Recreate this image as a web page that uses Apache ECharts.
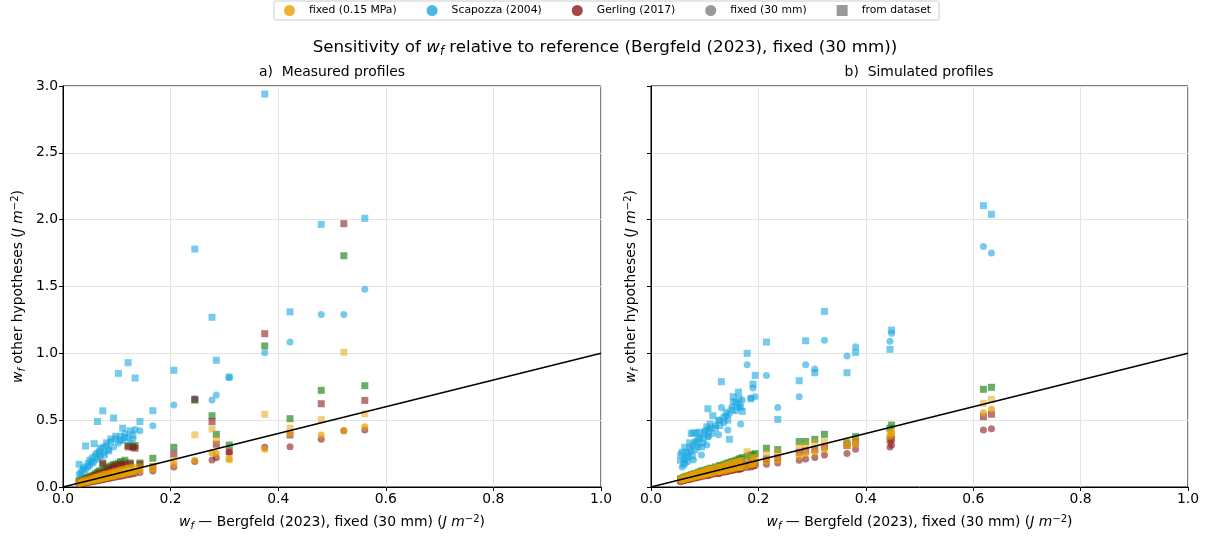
<!DOCTYPE html>
<html>
<head>
<meta charset="utf-8">
<title>Sensitivity of wf</title>
<script src="https://cdn.jsdelivr.net/npm/echarts@6/dist/echarts.min.js"></script>
<style>
  html, body { margin: 0; padding: 0; background: #fff; }
  #chart { width: 1215px; height: 536px; }
</style>
</head>
<body>
<div id="chart"></div>
<script>
// ---- Axis ticks ----
const xTicks = [0, 0.2, 0.4, 0.6, 0.8, 1.0];
const yTicks = [0, 0.5, 1.0, 1.5, 2.0, 2.5, 3.0];

// ---- Legend entries ----
const legendNames = ['fixed (0.15 MPa)', 'Scapozza (2004)', 'Gerling (2017)', 'fixed (30 mm)', 'from dataset'];

// ---- a) Measured profiles: reference wf (Bergfeld 2023, fixed 30 mm) ----
const measuredRef = [0.030, 0.034, 0.038, 0.042, 0.046, 0.050, 0.054, 0.058, 0.061, 0.064,
  0.067, 0.070, 0.074, 0.077, 0.081, 0.085, 0.089, 0.094, 0.098, 0.103,
  0.107, 0.111, 0.115, 0.121, 0.125, 0.130, 0.134, 0.143, 0.167,
  0.206, 0.245, 0.277, 0.285, 0.309, 0.375, 0.422, 0.480, 0.522, 0.561];
// fixed (0.15 MPa) density, fixed 30 mm thickness
const measuredPressCircle = [0.026, 0.029, 0.033, 0.036, 0.039, 0.043, 0.046, 0.049, 0.052, 0.055,
  0.058, 0.060, 0.064, 0.066, 0.070, 0.073, 0.077, 0.081, 0.084, 0.089,
  0.092, 0.096, 0.099, 0.104, 0.108, 0.112, 0.116, 0.124, 0.135,
  0.170, 0.200, 0.257, 0.252, 0.210, 0.283, 0.400, 0.389, 0.421, 0.451];
// fixed (0.15 MPa) density, thickness from dataset
const measuredPressSquare = [0.035, 0.040, 0.045, 0.050, 0.052, 0.060, 0.060, 0.068, 0.072, 0.075,
  0.080, 0.082, 0.090, 0.090, 0.098, 0.095, 0.108, 0.110, 0.118, 0.120,
  0.128, 0.126, 0.136, 0.140, 0.142, 0.146, 0.140, 0.150, 0.150,
  0.200, 0.390, 0.434, 0.350, 0.207, 0.544, 0.440, 0.504, 1.008, 0.548];
// Scapozza (2004) density, fixed 30 mm thickness
const measuredScapCircle = [0.100, 0.120, 0.150, 0.130, 0.180, 0.160, 0.220, 0.190, 0.250, 0.210,
  0.270, 0.230, 0.300, 0.260, 0.310, 0.280, 0.340, 0.300, 0.360, 0.330,
  0.380, 0.350, 0.400, 0.370, 0.330, 0.360, 0.430, 0.420, 0.459,
  0.613, 0.660, 0.651, 0.688, 0.820, 1.005, 1.085, 1.290, 1.290, 1.480];
// Scapozza (2004) density, thickness from dataset
const measuredScapSquare = [0.170, 0.090, 0.130, 0.307, 0.150, 0.200, 0.180, 0.324, 0.230, 0.490,
  0.250, 0.290, 0.570, 0.240, 0.330, 0.270, 0.360, 0.516, 0.380, 0.850,
  0.350, 0.440, 0.370, 0.930, 0.420, 0.390, 0.815, 0.490, 0.571,
  0.873, 1.780, 1.270, 0.948, 0.823, 2.940, 1.310, 1.965, null, 2.010];
// Gerling (2017) density, fixed 30 mm thickness
const measuredGerlCircle = [0.020, 0.024, 0.027, 0.030, 0.033, 0.036, 0.039, 0.042, 0.045, 0.047,
  0.050, 0.052, 0.055, 0.058, 0.061, 0.064, 0.067, 0.071, 0.074, 0.078,
  0.081, 0.084, 0.087, 0.092, 0.095, 0.099, 0.102, 0.108, 0.120,
  0.150, 0.190, 0.202, 0.219, 0.260, 0.297, 0.302, 0.357, 0.420, 0.426];
// Gerling (2017) density, thickness from dataset
const measuredGerlSquare = [0.036, 0.040, 0.046, 0.058, 0.050, 0.066, 0.060, 0.080, 0.088, 0.080,
  0.098, 0.100, 0.180, 0.108, 0.128, 0.120, 0.140, 0.150, 0.158, 0.127,
  0.168, 0.160, 0.170, 0.300, 0.180, 0.300, 0.290, 0.170, 0.152,
  0.247, 0.656, 0.489, 0.320, 0.264, 1.147, 0.389, 0.623, 1.970, 0.648];
// Bergfeld (2023) density, thickness from dataset
const measuredBergSquare = [0.048, 0.058, 0.060, 0.070, 0.072, 0.080, 0.082, 0.090, 0.100, 0.108,
  0.118, 0.120, 0.170, 0.128, 0.140, 0.148, 0.158, 0.168, 0.170, 0.178,
  0.190, 0.182, 0.200, 0.310, 0.172, 0.300, 0.310, 0.180, 0.215,
  0.297, 0.650, 0.533, 0.394, 0.314, 1.055, 0.511, 0.723, 1.730, 0.758];

// ---- b) Simulated profiles ----
const simulatedRef = [0.055, 0.058, 0.061, 0.063, 0.066, 0.069, 0.072, 0.075, 0.077, 0.079,
  0.082, 0.085, 0.088, 0.091, 0.094, 0.097, 0.100, 0.104, 0.106, 0.107,
  0.110, 0.115, 0.120, 0.126, 0.128, 0.131, 0.136, 0.140, 0.143, 0.146,
  0.151, 0.153, 0.158, 0.163, 0.164, 0.167, 0.170, 0.179, 0.186, 0.190,
  0.194, 0.215, 0.236, 0.276, 0.288, 0.305, 0.323, 0.365, 0.381, 0.445,
  0.448, 0.619, 0.634];
const simulatedPressCircle = [0.050, 0.050, 0.055, 0.060, 0.060, 0.065, 0.065, 0.070, 0.070, 0.075,
  0.075, 0.080, 0.080, 0.085, 0.085, 0.090, 0.090, 0.095, 0.100, 0.100,
  0.100, 0.105, 0.110, 0.115, 0.115, 0.120, 0.120, 0.125, 0.130, 0.130,
  0.135, 0.140, 0.140, 0.145, 0.145, 0.150, 0.150, 0.160, 0.165, 0.170,
  0.175, 0.190, 0.200, 0.230, 0.250, 0.260, 0.280, 0.310, 0.320, 0.380,
  0.400, 0.556, 0.581];
const simulatedPressSquare = [0.060, 0.060, 0.065, 0.070, 0.075, 0.080, 0.080, 0.085, 0.090, 0.090,
  0.100, 0.100, 0.100, 0.110, 0.110, 0.115, 0.120, 0.120, 0.125, 0.130,
  0.130, 0.135, 0.140, 0.145, 0.150, 0.150, 0.160, 0.160, 0.170, 0.170,
  0.180, 0.180, 0.185, 0.190, 0.190, 0.195, 0.200, 0.264, 0.210, 0.220,
  0.220, 0.250, 0.260, 0.300, 0.310, 0.330, 0.339, 0.334, 0.360, 0.400,
  0.420, 0.626, 0.656];
const simulatedScapCircle = [0.245, 0.150, 0.210, 0.177, 0.260, 0.190, 0.290, 0.270, 0.310, 0.202,
  0.340, 0.406, 0.300, 0.370, 0.239, 0.330, 0.420, 0.314, 0.380, 0.376,
  0.439, 0.400, 0.460, 0.390, 0.500, 0.594, 0.480, 0.531, 0.426, 0.550,
  0.600, 0.640, 0.570, 0.620, 0.594, 0.471, 0.650, 0.915, 0.665, 0.740,
  0.676, 0.835, 0.594, 0.676, 0.915, 0.883, 1.097, 0.980, 1.050, 1.090,
  1.150, 1.800, 1.750];
const simulatedScapSquare = [0.200, 0.260, 0.170, 0.297, 0.220, 0.240, 0.330, 0.400, 0.232, 0.406,
  0.280, 0.330, 0.360, 0.410, 0.300, 0.364, 0.400, 0.450, 0.586, 0.420,
  0.470, 0.533, 0.440, 0.500, 0.460, 0.788, 0.520, 0.560, 0.500, 0.357,
  0.576, 0.676, 0.630, 0.710, 0.660, 0.600, 0.566, 1.000, 0.660, 0.770,
  0.835, 1.085, 0.506, 0.795, 1.094, 0.855, 1.314, 0.855, 1.007, 1.030,
  1.174, 2.105, 2.040];
const simulatedGerlCircle = [0.040, 0.045, 0.050, 0.050, 0.055, 0.055, 0.060, 0.060, 0.065, 0.065,
  0.070, 0.070, 0.075, 0.075, 0.080, 0.080, 0.085, 0.085, 0.090, 0.090,
  0.090, 0.095, 0.100, 0.100, 0.105, 0.110, 0.110, 0.115, 0.120, 0.120,
  0.125, 0.125, 0.130, 0.130, 0.135, 0.135, 0.140, 0.145, 0.150, 0.155,
  0.160, 0.170, 0.180, 0.200, 0.210, 0.220, 0.240, 0.250, 0.282, 0.300,
  0.314, 0.426, 0.436];
const simulatedGerlSquare = [0.050, 0.050, 0.055, 0.060, 0.060, 0.065, 0.070, 0.070, 0.075, 0.075,
  0.080, 0.080, 0.085, 0.090, 0.090, 0.095, 0.100, 0.100, 0.100, 0.105,
  0.110, 0.110, 0.115, 0.120, 0.120, 0.125, 0.130, 0.130, 0.135, 0.140,
  0.140, 0.145, 0.150, 0.150, 0.155, 0.160, 0.160, 0.170, 0.180, 0.180,
  0.185, 0.210, 0.220, 0.260, 0.270, 0.280, 0.300, 0.310, 0.330, 0.350,
  0.360, 0.526, 0.544];
const simulatedBergSquare = [0.060, 0.065, 0.070, 0.075, 0.080, 0.080, 0.085, 0.090, 0.090, 0.095,
  0.100, 0.100, 0.110, 0.110, 0.120, 0.120, 0.120, 0.130, 0.130, 0.130,
  0.140, 0.140, 0.150, 0.150, 0.160, 0.160, 0.170, 0.170, 0.180, 0.180,
  0.190, 0.190, 0.200, 0.200, 0.210, 0.210, 0.220, 0.230, 0.240, 0.240,
  0.250, 0.290, 0.280, 0.340, 0.340, 0.357, 0.394, 0.330, 0.377, 0.440,
  0.464, 0.731, 0.746];

// ---- Styling ----
const COLORS = {
  press: '#E69F00',
  scap: '#1AA7E0',
  gerl: '#8B1A1A',
  berg: '#2A8A2A',
  gray: '#808080'
};
const FONT = 'DejaVu Sans';
const FS = 13.9;

function pairs(xs, ys) {
  const out = [];
  for (let i = 0; i < xs.length; i++) {
    if (ys[i] !== null && ys[i] !== undefined) out.push([xs[i], ys[i]]);
  }
  return out;
}

function scatter(panel, xs, ys, color, shape, opacity, z) {
  return {
    type: 'scatter',
    xAxisIndex: panel,
    yAxisIndex: panel,
    data: pairs(xs, ys),
    symbol: shape,
    symbolSize: 7,
    itemStyle: { color: color, opacity: opacity },
    emphasis: { disabled: true },
    silent: true,
    z: z
  };
}

function panelSeries(panel, ref, pc, ps, sc, ss, gc, gs, bs) {
  return [
    scatter(panel, ref, bs, COLORS.berg, 'rect', 0.7, 2),
    scatter(panel, ref, sc, COLORS.scap, 'circle', 0.6, 2),
    scatter(panel, ref, ss, COLORS.scap, 'rect', 0.6, 2),
    scatter(panel, ref, gc, COLORS.gerl, 'circle', 0.6, 3),
    scatter(panel, ref, gs, COLORS.gerl, 'rect', 0.6, 3),
    scatter(panel, ref, pc, COLORS.press, 'circle', 0.7, 3),
    scatter(panel, ref, ps, COLORS.press, 'rect', 0.5, 3),
    {
      // 1:1 reference line
      type: 'line',
      xAxisIndex: panel,
      yAxisIndex: panel,
      data: [[0, 0], [1, 1]],
      showSymbol: false,
      symbol: 'none',
      lineStyle: { color: '#000', width: 1.5 },
      silent: true,
      z: 5
    }
  ];
}

const richMath = {
  i: { fontFamily: FONT, fontStyle: 'italic', fontSize: FS, lineHeight: 17, color: '#000' },
  sub: { fontFamily: FONT, fontStyle: 'italic', fontSize: 10, lineHeight: 10, verticalAlign: 'bottom', color: '#000' },
  sup: { fontFamily: FONT, fontSize: 10, lineHeight: 10, verticalAlign: 'top', color: '#000' }
};

function axisNameStyle() {
  return { fontFamily: FONT, fontSize: FS, lineHeight: 17, color: '#000', rich: richMath };
}

const xName = '{i|w}{sub|f} — Bergfeld (2023), fixed (30 mm) ({i|J m}{sup|−2})';
const yName = '{i|w}{sub|f} other hypotheses ({i|J m}{sup|−2})';

function xAxis(panel) {
  return {
    type: 'value', gridIndex: panel, min: xTicks[0], max: xTicks[xTicks.length - 1], interval: 0.2,
    name: xName, nameLocation: 'middle', nameGap: 27,
    nameTextStyle: axisNameStyle(),
    axisLine: { show: true, lineStyle: { color: '#000', width: 1 } },
    axisTick: { show: true, length: 4, lineStyle: { color: '#000' } },
    axisLabel: { fontFamily: FONT, fontSize: FS, color: '#000', margin: 5,
      formatter: v => v.toFixed(1) },
    splitLine: { show: true, lineStyle: { color: '#e4e4e4', width: 1 } }
  };
}

function yAxis(panel, withLabels) {
  return {
    type: 'value', gridIndex: panel, min: yTicks[0], max: yTicks[yTicks.length - 1], interval: 0.5,
    name: yName, nameLocation: 'middle', nameGap: withLabels ? 36 : 11, nameRotate: 90,
    nameTextStyle: axisNameStyle(),
    axisLine: { show: true, lineStyle: { color: '#000', width: 1 } },
    axisTick: { show: true, length: 4, lineStyle: { color: '#000' } },
    axisLabel: { show: withLabels, fontFamily: FONT, fontSize: FS, color: '#000', margin: 5,
      formatter: v => v.toFixed(1) },
    splitLine: { show: true, lineStyle: { color: '#e4e4e4', width: 1 } }
  };
}

// Legend-only series (no data): colour = density hypothesis, marker = thickness hypothesis
const legendColors = [COLORS.press, COLORS.scap, COLORS.gerl, COLORS.gray, COLORS.gray];
const legendIcons = ['circle', 'circle', 'circle', 'circle', 'rect'];
const legendSeries = legendNames.map((n, i) => ({
  type: 'scatter', name: n, data: [], xAxisIndex: 0, yAxisIndex: 0,
  itemStyle: { color: legendColors[i] }
}));

const option = {
  animation: false,
  backgroundColor: '#fff',
  title: [
    {
      text: 'Sensitivity of {i|w}{sub|f} relative to reference (Bergfeld (2023), fixed (30 mm))',
      left: 605, top: 38, textAlign: 'center', padding: 0,
      textStyle: {
        fontFamily: FONT, fontSize: 16.7, fontWeight: 'normal', color: '#000', lineHeight: 20,
        rich: {
          i: { fontFamily: FONT, fontStyle: 'italic', fontSize: 16.7, lineHeight: 20, color: '#000' },
          sub: { fontFamily: FONT, fontStyle: 'italic', fontSize: 11.5, lineHeight: 11, verticalAlign: 'bottom', color: '#000' }
        }
      }
    },
    {
      text: 'a)  Measured profiles', left: 332, top: 64, textAlign: 'center', padding: 0,
      textStyle: { fontFamily: FONT, fontSize: FS, lineHeight: 16, fontWeight: 'normal', color: '#000' }
    },
    {
      text: 'b)  Simulated profiles', left: 919, top: 64, textAlign: 'center', padding: 0,
      textStyle: { fontFamily: FONT, fontSize: FS, lineHeight: 16, fontWeight: 'normal', color: '#000' }
    }
  ],
  legend: {
    data: legendNames.map((n, i) => ({ name: n, icon: legendIcons[i] })),
    left: 'center', top: 1,
    itemWidth: 11, itemHeight: 11, itemGap: 30,
    padding: [4, 8, 4, 10],
    borderColor: '#cccccc', borderWidth: 1, borderRadius: 2,
    textStyle: { fontFamily: FONT, fontSize: 10.8, color: '#000', padding: [0, 0, 0, 9] },
    selectedMode: false
  },
  grid: [
    { left: 63, right: 614, top: 86, bottom: 49, show: true, borderColor: '#000', borderWidth: 1, backgroundColor: 'transparent' },
    { left: 651, right: 27, top: 86, bottom: 49, show: true, borderColor: '#000', borderWidth: 1, backgroundColor: 'transparent' }
  ],
  xAxis: [xAxis(0), xAxis(1)],
  yAxis: [yAxis(0, true), yAxis(1, false)],
  series: [
    ...legendSeries,
    ...panelSeries(0, measuredRef, measuredPressCircle, measuredPressSquare, measuredScapCircle,
      measuredScapSquare, measuredGerlCircle, measuredGerlSquare, measuredBergSquare),
    ...panelSeries(1, simulatedRef, simulatedPressCircle, simulatedPressSquare, simulatedScapCircle,
      simulatedScapSquare, simulatedGerlCircle, simulatedGerlSquare, simulatedBergSquare)
  ]
};

const chart = echarts.init(document.getElementById('chart'), null, { renderer: 'canvas' });
chart.setOption(option);
</script>
</body>
</html>
